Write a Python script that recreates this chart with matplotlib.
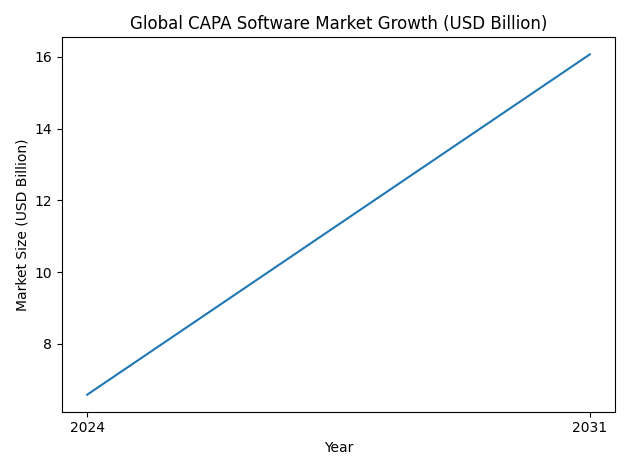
import matplotlib
matplotlib.use("Agg")
import matplotlib.pyplot as plt

years = [2024, 2031]
market = [6.58, 16.07]

fig, ax = plt.subplots(figsize=(6.3, 4.7), dpi=100)
ax.plot(years, market)
ax.set_xticks(years)
ax.set_xlabel("Year")
ax.set_ylabel("Market Size (USD Billion)")
ax.set_title("Global CAPA Software Market Growth (USD Billion)")
plt.tight_layout()
plt.savefig("out.png")
